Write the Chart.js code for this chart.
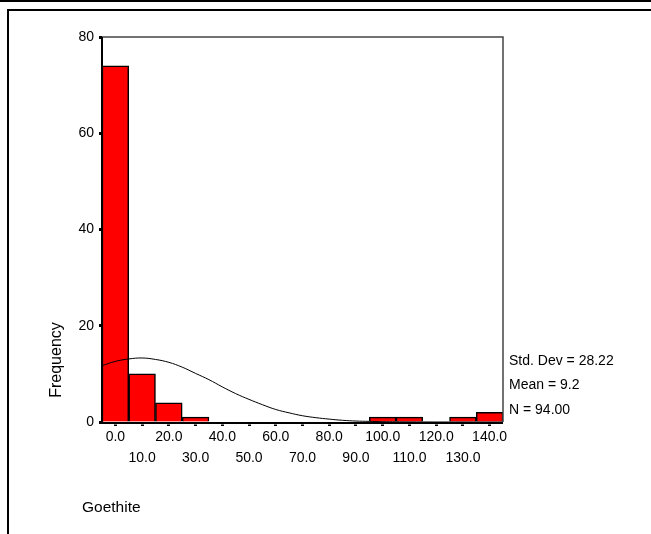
<!DOCTYPE html>
<html>
<head>
<meta charset="utf-8">
<script src="https://cdn.jsdelivr.net/npm/chart.js@4"></script>
<style>
  html, body { margin: 0; padding: 0; background: #fff; }
  #wrap { position: relative; width: 651px; height: 534px; }
</style>
</head>
<body>
<div id="wrap"><canvas id="histChart" width="651" height="534"></canvas></div>
<script>
// bin centres of the histogram (Goethite)
const binCentres = [0, 10, 20, 30, 40, 50, 60, 70, 80, 90, 100, 110, 120, 130, 140];
const frequencies = [74, 10, 4, 1, 0, 0, 0, 0, 0, 0, 1, 1, 0, 1, 2];
const yTicks = [0, 20, 40, 60, 80];

// fitted normal curve
const curveX = [-5, 0, 5, 10, 15, 20, 25, 30, 35, 40, 45, 50, 55, 60, 65, 70, 75, 80, 85, 90, 95, 100, 105, 110, 120, 130, 145];
const curveY = [11.7, 12.6, 13.1, 13.3, 13.0, 12.4, 11.4, 10.1, 8.8, 7.3, 5.9, 4.7, 3.6, 2.6, 1.9, 1.3, 0.9, 0.6, 0.35, 0.2, 0.13, 0.07, 0.04, 0.02, 0, 0, 0];

const statLines = ['Std. Dev = 28.22', 'Mean = 9.2', 'N = 94.00'];
const xTitle = 'Goethite';
const yTitle = 'Frequency';

const FONT = 'Liberation Sans, Arial, sans-serif';

// frame, plot border and loose texts
const decorations = {
  id: 'decorations',
  beforeDraw(chart) {
    const c = chart.ctx;
    c.save();
    c.fillStyle = '#fff';
    c.fillRect(0, 0, chart.width, chart.height);
    c.strokeStyle = '#000';
    c.lineWidth = 2;
    c.beginPath();
    c.moveTo(0, 1); c.lineTo(chart.width, 1);
    c.moveTo(8, chart.height); c.lineTo(8, 10); c.lineTo(chart.width, 10);
    c.stroke();
    c.restore();
  },
  afterDraw(chart) {
    const c = chart.ctx;
    const a = chart.chartArea;
    c.save();
    c.strokeStyle = '#444';
    c.lineWidth = 1.5;
    c.beginPath();
    c.moveTo(a.left, a.top); c.lineTo(a.right, a.top); c.lineTo(a.right, a.bottom);
    c.stroke();
    c.strokeStyle = '#000';
    c.lineWidth = 2;
    c.beginPath();
    c.moveTo(a.left, a.top); c.lineTo(a.left, a.bottom + 1); c.lineTo(a.right, a.bottom + 1);
    c.stroke();

    c.fillStyle = '#000';
    c.font = '14px ' + FONT;
    c.textBaseline = 'middle';
    c.textAlign = 'left';
    statLines.forEach((t, i) => c.fillText(t, a.right + 6, 361 + i * 24.5));
    c.font = '15.5px ' + FONT;
    c.fillText(xTitle, 82, 508);
    c.font = '16px ' + FONT;
    c.translate(57, 360);
    c.rotate(-Math.PI / 2);
    c.textAlign = 'center';
    c.fillText(yTitle, 0, 0);
    c.restore();
  }
};

new Chart(document.getElementById('histChart'), {
  type: 'bar',
  data: {
    datasets: [
      {
        type: 'line',
        data: curveX.map((x, i) => ({ x: x, y: curveY[i] })),
        borderColor: '#000',
        borderWidth: 1,
        pointRadius: 0,
        tension: 0.4,
        fill: false,
        order: 0
      },
      {
        type: 'bar',
        data: binCentres.map((x, i) => ({ x: x, y: frequencies[i] })),
        backgroundColor: '#ff0000',
        borderColor: '#000',
        borderWidth: 1.5,
        barPercentage: 1,
        categoryPercentage: 1,
        grouped: false,
        order: 1
      }
    ]
  },
  options: {
    responsive: false,
    animation: false,
    layout: { padding: { left: 0, top: 37, right: 148, bottom: 0 } },
    plugins: { legend: { display: false }, tooltip: { enabled: false } },
    scales: {
      x: {
        type: 'linear',
        min: -5,
        max: 145,
        offset: false,
        border: { display: false },
        grid: {
          offset: false, drawOnChartArea: false,
          tickLength: 4, tickWidth: 3, tickColor: '#000', tickBorderDash: [0, 2.5, 1.5]
        },
        afterBuildTicks(scale) { scale.ticks = binCentres.map(v => ({ value: v })); },
        ticks: {
          autoSkip: false,
          maxRotation: 0,
          padding: 0,
          color: '#000',
          font: { family: FONT, size: 14, lineHeight: 1.55 },
          callback: function (val) {
            const s = Number(val).toFixed(1);
            return binCentres.indexOf(val) % 2 === 0 ? [s] : ['', s];
          }
        },
        afterFit(scale) { scale.height = 112; }
      },
      y: {
        min: 0,
        max: 80,
        border: { display: false },
        grid: { drawOnChartArea: false, tickLength: 3, tickWidth: 3, tickColor: '#000' },
        afterBuildTicks(scale) { scale.ticks = yTicks.map(v => ({ value: v })); },
        ticks: {
          padding: 5,
          color: '#000',
          font: { family: FONT, size: 14 }
        },
        afterFit(scale) { scale.width = 102; }
      }
    }
  },
  plugins: [decorations]
});
</script>
</body>
</html>
